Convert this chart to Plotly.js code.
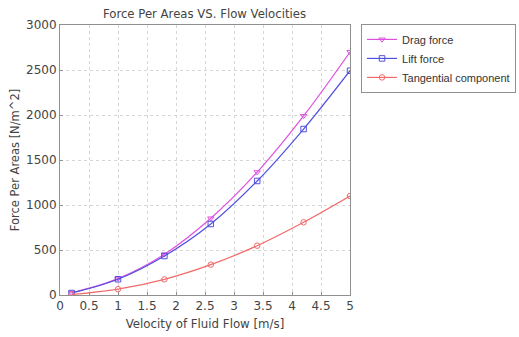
<!DOCTYPE html>
<html><head><meta charset="utf-8">
<script src="https://cdn.plot.ly/plotly-3.0.1.min.js"></script>
<style>html,body{margin:0;padding:0;background:#fff}#c{width:519px;height:337px}</style>
</head><body><div id="c"></div>
<script>
const velocity = [0.2, 1.0, 1.8, 2.6, 3.4, 4.2, 5.0];
const dragForce = [25, 182, 452, 852, 1365, 1990, 2700];
const liftForce = [22, 175, 433, 789, 1267, 1844, 2492];
const tangential = [5, 65, 174, 337, 548, 808, 1100];
const seriesNames = ["Drag force", "Lift force", "Tangential component"];
const xTicks = [0, 0.5, 1, 1.5, 2, 2.5, 3, 3.5, 4, 4.5, 5];
const xTickText = ["0", "0.5", "1", "1.5", "2", "2.5", "3", "3.5", "4", "4.5", "5"];

function tr(y, name, color, sym) {
  return {x: velocity, y: y, name: name, type: 'scatter', mode: 'lines+markers',
    line: {color: color, width: 1.2, shape: 'spline'},
    marker: {symbol: sym, size: 5.5, color: color, line: {color: color, width: 1}}};
}
const data = [
  tr(dragForce, seriesNames[0], '#e050e0', 'triangle-down-open'),
  tr(liftForce, seriesNames[1], '#5050e0', 'square-open'),
  tr(tangential, seriesNames[2], '#f06a6a', 'circle-open')
];
const font = {family: 'DejaVu Sans, Verdana, sans-serif', size: 12, color: '#444'};
const layout = {
  width: 519, height: 337,
  margin: {l: 60, r: 169, t: 25, b: 42, autoexpand: false},
  paper_bgcolor: '#fff', plot_bgcolor: '#fff',
  font: font,
  showlegend: true,
  title: {text: 'Force Per Areas VS. Flow Velocities', font: {size: 11.7, color: '#444'}, x: 0.394, xanchor: 'center', y: 0.958, yanchor: 'middle'},
  xaxis: {range: [0, 5], tickvals: xTicks, ticktext: xTickText, showgrid: true,
    gridcolor: '#d6d6d6', griddash: 'dot', gridwidth: 1, zeroline: false,
    showline: true, mirror: true, linecolor: '#909090', linewidth: 1,
    ticks: 'inside', ticklen: 3, tickcolor: '#909090',
    tickfont: {size: 12, color: '#444'},
    title: {text: 'Velocity of Fluid Flow [m/s]', font: {size: 11.8, color: '#444'}, standoff: 7}},
  yaxis: {range: [0, 3000], dtick: 500, showgrid: true,
    gridcolor: '#d6d6d6', griddash: 'dot', gridwidth: 1, zeroline: false,
    showline: true, mirror: true, linecolor: '#909090', linewidth: 1,
    ticks: 'inside', ticklen: 3, tickcolor: '#909090',
    tickfont: {size: 12, color: '#444'},
    title: {text: 'Force Per Areas [N/m^2]', font: {size: 11.5, color: '#444'}, standoff: 4}},
  legend: {x: 1.038, y: 1.004, xanchor: 'left', yanchor: 'top', bgcolor: '#fff',
    bordercolor: '#909090', borderwidth: 1,
    font: {family: 'Liberation Sans, Arial, sans-serif', size: 11, color: '#333'},
    tracegroupgap: 0, itemwidth: 30}
};
Plotly.newPlot('c', data, layout, {displayModeBar: false, staticPlot: true});
</script></body></html>
